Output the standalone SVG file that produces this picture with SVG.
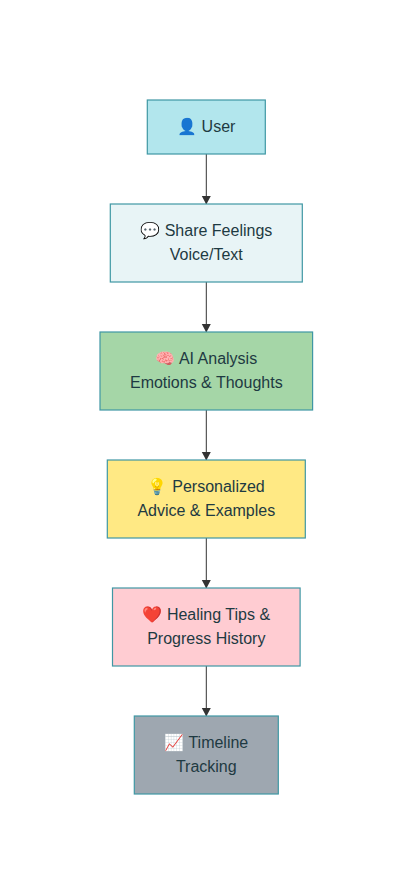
<svg xmlns="http://www.w3.org/2000/svg" width="413" height="894" viewBox="0 0 413 894">
<defs><marker id="arrow" markerUnits="userSpaceOnUse" markerWidth="10" markerHeight="10" refX="8.500" refY="5" orient="auto"><path d="M0,0.500L8.500,5L0,9.500z" fill="#333"/></marker></defs>
<style>
.n{stroke:#3f97a4;stroke-width:1.2}
text{font-family:"Liberation Sans","Noto Color Emoji",Arial,sans-serif;font-size:16px;fill:#1e3a42;text-anchor:middle}
.c{stroke:#333;stroke-width:1;fill:none;marker-end:url(#arrow)}
</style>
<rect width="413" height="894" fill="#fff"/>
<g id="connectors">
<line class="c" x1="206.300" y1="154" x2="206.300" y2="204.500"/>
<line class="c" x1="206.300" y1="282" x2="206.300" y2="332.500"/>
<line class="c" x1="206.300" y1="410" x2="206.300" y2="460.500"/>
<line class="c" x1="206.300" y1="538" x2="206.300" y2="588.500"/>
<line class="c" x1="206.300" y1="666" x2="206.300" y2="716.500"/>
</g>
<g id="user"><rect class="n" x="147.300" y="100" width="118" height="54" fill="#b2e6ed"/><text x="206.300" y="132">👤 User</text></g>
<g id="share"><rect class="n" x="110.300" y="204" width="192" height="78" fill="#e8f4f6"/><text x="206.300" y="236">💬 Share Feelings</text><text x="206.300" y="260">Voice/Text</text></g>
<g id="analysis"><rect class="n" x="100" y="332" width="212.600" height="78" fill="#a5d6a7"/><text x="206.300" y="364">🧠 AI Analysis</text><text x="206.300" y="388">Emotions &amp; Thoughts</text></g>
<g id="advice"><rect class="n" x="107.300" y="460" width="198" height="78" fill="#ffe984"/><text x="206.300" y="492">💡 Personalized</text><text x="206.300" y="516">Advice &amp; Examples</text></g>
<g id="healing"><rect class="n" x="112.500" y="588" width="187.600" height="78" fill="#ffccd2"/><text x="206.300" y="620">❤️ Healing Tips &amp;</text><text x="206.300" y="644">Progress History</text></g>
<g id="timeline"><rect class="n" x="134.300" y="716" width="144" height="78" fill="#9ea7b0"/><text x="206.300" y="748">📈 Timeline</text><text x="206.300" y="772">Tracking</text></g>
</svg>
